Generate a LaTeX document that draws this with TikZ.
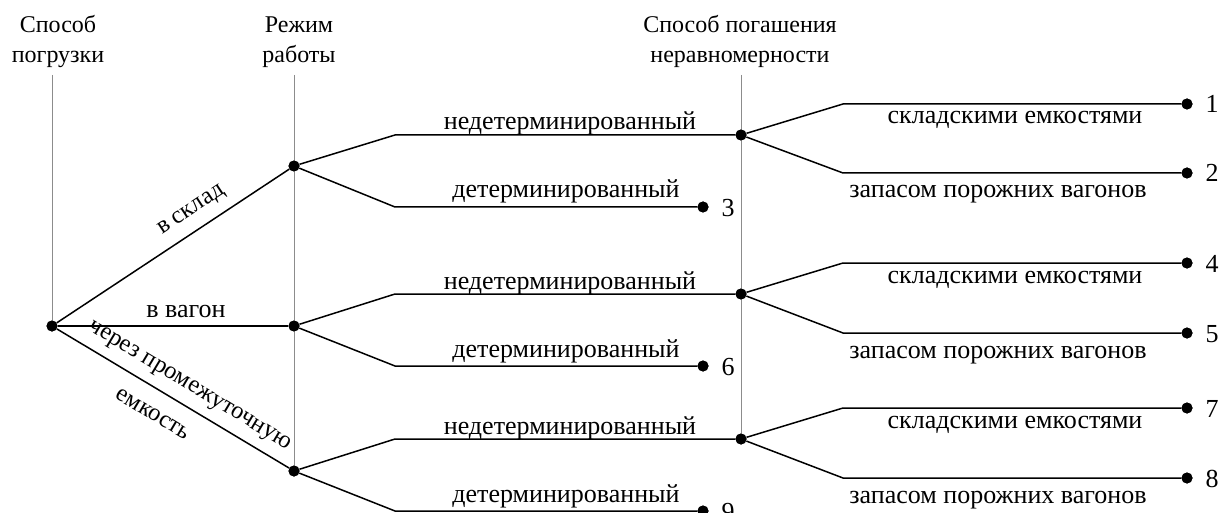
\documentclass[tikz,border=0pt]{standalone}
\usepackage{fontspec}
\setmainfont{Liberation Serif}
\begin{document}
\begin{tikzpicture}[x=1pt,y=-1pt,
  font=\fontsize{26}{30}\selectfont,
  dot/.style={circle,fill=black,inner sep=0pt,minimum size=11pt},
  edge/.style={line width=1.5pt,black},
  guide/.style={line width=1pt,black!45},
  lbl/.style={inner sep=0pt,anchor=base},
  slbl/.style={inner sep=0pt,font=\fontsize{24.5}{30}\selectfont},
  hdr/.style={inner sep=0pt,align=center,anchor=base,font=\fontsize{24}{30}\selectfont}]
\useasboundingbox (0,0) rectangle (1223,513);

% headers (base anchor = baseline of the last line)
\node[hdr] (h1) at (58,63) {Способ\\погрузки};
\node[hdr] (h2) at (299,63) {Режим\\работы};
\node[hdr] (h3) at (740,63) {Способ погашения\\неравномерности};

% nodes
\node[dot] (r) at (52,326) {};
\node[dot] (a1) at (294,166) {};
\node[dot] (a2) at (294,326) {};
\node[dot] (a3) at (294,471) {};
\node[dot] (b1) at (741,135) {};
\node[dot] (b2) at (741,294) {};
\node[dot] (b3) at (741,439) {};
\node[dot] (e3) at (703,207) {};
\node[dot] (e6) at (703,366) {};
\node[dot] (e9) at (703,511) {};
\node[dot] (e1) at (1187,104) {};
\node[dot] (e2) at (1187,173) {};
\node[dot] (e4) at (1187,263) {};
\node[dot] (e5) at (1187,333) {};
\node[dot] (e7) at (1187,408) {};
\node[dot] (e8) at (1187,478) {};

% corners
\coordinate (a1u) at (395,135);
\coordinate (a1d) at (395,207);
\coordinate (a2u) at (395,294);
\coordinate (a2d) at (395,366);
\coordinate (a3u) at (395,439);
\coordinate (a3d) at (395,511);
\coordinate (b1u) at (843,104);
\coordinate (b1d) at (843,173);
\coordinate (b2u) at (843,263);
\coordinate (b2d) at (843,333);
\coordinate (b3u) at (843,408);
\coordinate (b3d) at (843,478);

% guides
\coordinate (g1) at (52,75);
\coordinate (g2) at (294,75);
\coordinate (g3) at (741,75);
\draw[guide] (g1) -- (r.center);
\draw[guide] (g2) -- (a3.center);
\draw[guide] (g3) -- (b3.center);

% edges
\draw[edge] (r) -- (a1);
\draw[edge] (r) -- (a2);
\draw[edge] (r) -- (a3);
\draw[edge] (a1) -- (a1u) -- (b1);
\draw[edge] (a1) -- (a1d) -- (e3);
\draw[edge] (a2) -- (a2u) -- (b2);
\draw[edge] (a2) -- (a2d) -- (e6);
\draw[edge] (a3) -- (a3u) -- (b3);
\draw[edge] (a3) -- (a3d) -- (e9);
\draw[edge] (b1) -- (b1u) -- (e1);
\draw[edge] (b1) -- (b1d) -- (e2);
\draw[edge] (b2) -- (b2u) -- (e4);
\draw[edge] (b2) -- (b2d) -- (e5);
\draw[edge] (b3) -- (b3u) -- (e7);
\draw[edge] (b3) -- (b3d) -- (e8);

% redraw dots over lines
\foreach \n in {r,a1,a2,a3,b1,b2,b3,e1,e2,e3,e4,e5,e6,e7,e8,e9}
  \fill (\n.center) circle (5.5pt);

% edge labels
\node[slbl,rotate=33.5] (l1) at (192,211) {в склад};
\node[lbl] (l2) at (186,317) {в вагон};
\node[slbl,rotate=-31] (l3) at (189,387) {через промежуточную};
\node[slbl,rotate=-31] (l4) at (153,414) {емкость};

\node[lbl] (n1) at (570,130) {недетерминированный};
\node[lbl] (n2) at (570,289) {недетерминированный};
\node[lbl] (n3) at (570,434) {недетерминированный};
\node[lbl] (d1) at (566,198) {детерминированный};
\node[lbl] (d2) at (566,357) {детерминированный};
\node[lbl] (d3) at (566,502) {детерминированный};

\node[lbl] (s1) at (1015,124) {складскими емкостями};
\node[lbl] (s2) at (1015,283) {складскими емкостями};
\node[lbl] (s3) at (1015,428) {складскими емкостями};
\node[lbl] (z1) at (998,198) {запасом порожних вагонов};
\node[lbl] (z2) at (998,358) {запасом порожних вагонов};
\node[lbl] (z3) at (998,503) {запасом порожних вагонов};

% numbers
\node[lbl] (k1) at (1212,113) {1};
\node[lbl] (k2) at (1212,182) {2};
\node[lbl] (k3) at (728,216) {3};
\node[lbl] (k4) at (1212,272) {4};
\node[lbl] (k5) at (1212,342) {5};
\node[lbl] (k6) at (728,375) {6};
\node[lbl] (k7) at (1212,417) {7};
\node[lbl] (k8) at (1212,487) {8};
\node[lbl] (k9) at (728,520) {9};
\end{tikzpicture}
\end{document}
